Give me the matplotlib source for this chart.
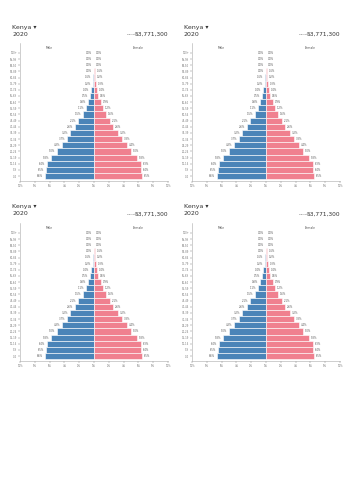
import matplotlib.pyplot as plt
import numpy as np

# Kenya 2020 population pyramid, values in percent of total population
ages = ['0-4', '5-9', '10-14', '15-19', '20-24', '25-29', '30-34', '35-39',
        '40-44', '45-49', '50-54', '55-59', '60-64', '65-69', '70-74',
        '75-79', '80-84', '85-89', '90-94', '95-99', '100+']
male = [6.6, 6.5, 6.4, 5.8, 5.0, 4.3, 3.7, 3.2, 2.6, 2.1, 1.5, 1.1,
        0.8, 0.5, 0.4, 0.2, 0.1, 0.0, 0.0, 0.0, 0.0]
female = [6.5, 6.4, 6.3, 5.8, 5.0, 4.4, 3.8, 3.2, 2.6, 2.1, 1.6, 1.2,
          0.9, 0.6, 0.4, 0.3, 0.2, 0.1, 0.0, 0.0, 0.0]
xticks = [-10, -8, -6, -4, -2, 0, 2, 4, 6, 8, 10]
country = 'Kenya'
year = '2020'
population = '53,771,300'

male_color = '#4a84b8'
female_color = '#f0808f'
W, H = 353, 500

fig = plt.figure(figsize=(W / 100, H / 100), dpi=100)


def draw_panel(x0, y0):
    # x0, y0: pixel position of the panel's top-left corner
    fig.text((x0 + 12) / W, 1 - (y0 + 12) / H, country + ' \u25be', fontsize=4.5,
             color='#333333', va='center')
    fig.text((x0 + 12) / W, 1 - (y0 + 19) / H, year, fontsize=4.5,
             color='#333333', va='center')
    fig.text((x0 + 168) / W, 1 - (y0 + 19) / H, population, fontsize=4.2,
             color='#333333', va='center', ha='right')
    fig.text((x0 + 139) / W, 1 - (y0 + 19.5) / H, 'Population', fontsize=1.7,
             color='#666666', va='center', ha='right')

    ax = fig.add_axes([(x0 + 20) / W, 1 - (y0 + 166) / H, 148 / W, 138 / H])
    y = np.arange(len(ages))
    ax.barh(y, [-m for m in male], height=1.0, color=male_color,
            edgecolor='white', linewidth=0.4)
    ax.barh(y, female, height=1.0, color=female_color,
            edgecolor='white', linewidth=0.4)
    for i in range(len(ages)):
        ax.text(-male[i] - 0.25, y[i], f'{male[i]:.1f}%', fontsize=1.8,
                color='#555555', ha='right', va='center')
        ax.text(female[i] + 0.25, y[i], f'{female[i]:.1f}%', fontsize=1.8,
                color='#555555', ha='left', va='center')
    ax.text(-6, len(ages) - 0.4, 'Male', fontsize=2.2, color='#555555', ha='center')
    ax.text(6, len(ages) - 0.4, 'Female', fontsize=2.2, color='#555555', ha='center')

    ax.set_xlim(-10, 10)
    ax.set_ylim(-0.8, len(ages) + 0.6)
    ax.set_xticks(xticks)
    ax.set_xticklabels([f'{abs(t)}%' for t in xticks])
    ax.set_yticks(y)
    ax.set_yticklabels(ages)
    ax.tick_params(labelsize=1.8, colors='#777777', length=1.2, width=0.3, pad=1)
    for s in ['top', 'right']:
        ax.spines[s].set_visible(False)
    for s in ['left', 'bottom']:
        ax.spines[s].set_color('#aaaaaa')
        ax.spines[s].set_linewidth(0.4)


for px, py in [(0, 15), (172, 15), (0, 195), (172, 195)]:
    draw_panel(px, py)

fig.savefig('out.png', dpi=100)
